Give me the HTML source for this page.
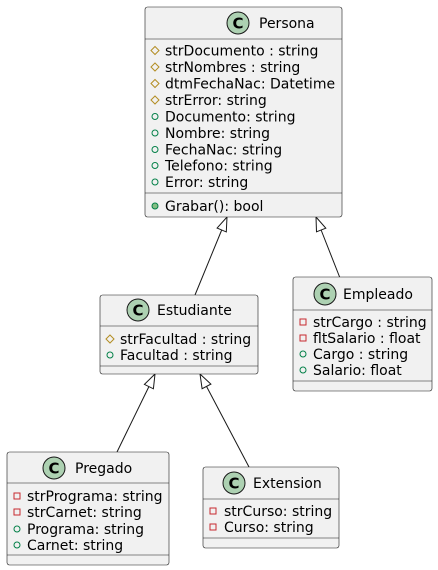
<!DOCTYPE html>
<html><head><meta charset="utf-8"><style>
html,body{margin:0;padding:0;background:#fff;}
svg{display:block;font-family:"DejaVu Sans","Liberation Sans",sans-serif;}
.b{fill:#F1F1F1;stroke:#181818;stroke-width:0.6;}
.l{stroke:#181818;stroke-width:0.6;}
.t{font-size:14px;fill:#000;}
.f{font-size:14px;fill:#000;}
.ci{fill:#ADD1B2;stroke:#181818;stroke-width:1;}
.cl{font-size:15px;font-weight:bold;fill:#000;}
.pr{fill:none;stroke:#B38D22;stroke-width:1;}
.pu{fill:none;stroke:#038048;stroke-width:1;}
.pv{fill:none;stroke:#C82930;stroke-width:1;}
.pm{fill:#84BE84;stroke:#038048;stroke-width:1;}
.a{fill:none;stroke:#181818;stroke-width:1;}
</style></head><body>
<svg width="438" height="570" viewBox="0 0 438 570">
<line class="a" x1="195" y1="295" x2="221.7" y2="230"/>
<polygon class="a" points="227,217 226.3,231.9 217.1,228.1"/>
<line class="a" x1="340" y1="278" x2="321.1" y2="230"/>
<polygon class="a" points="316,217 325.8,228.2 316.5,231.8"/>
<line class="a" x1="117" y1="452" x2="148.9" y2="386.6"/>
<polygon class="a" points="155,374 153.4,388.8 144.4,384.4"/>
<line class="a" x1="249" y1="467" x2="206.5" y2="386.4"/>
<polygon class="a" points="200,374 210.9,384.1 202.1,388.7"/>

<rect class="b" x="145" y="7" width="197" height="210" rx="2.5"/>
<line class="l" x1="145" y1="39" x2="342" y2="39"/>
<line class="l" x1="145" y1="193" x2="342" y2="193"/>
<circle class="ci" cx="238" cy="23" r="11"/><text class="cl" x="238" y="28.5" text-anchor="middle">C</text>
<text class="t" x="259" y="28">Persona</text>
<polygon class="pr" points="155,46.5 159,50.5 155,54.5 151,50.5"/><text class="f" x="165" y="55.5">strDocumento : string</text>
<polygon class="pr" points="155,63 159,67 155,71 151,67"/><text class="f" x="165" y="72">strNombres : string</text>
<polygon class="pr" points="155,79.5 159,83.5 155,87.5 151,83.5"/><text class="f" x="165" y="88.5">dtmFechaNac: Datetime</text>
<polygon class="pr" points="155,96 159,100 155,104 151,100"/><text class="f" x="165" y="105">strError: string</text>
<circle class="pu" cx="155" cy="116.5" r="3"/><text class="f" x="165" y="121.5">Documento: string</text>
<circle class="pu" cx="155" cy="133" r="3"/><text class="f" x="165" y="138">Nombre: string</text>
<circle class="pu" cx="155" cy="149.5" r="3"/><text class="f" x="165" y="154.5">FechaNac: string</text>
<circle class="pu" cx="155" cy="165.5" r="3"/><text class="f" x="165" y="170.5">Telefono: string</text>
<circle class="pu" cx="155" cy="182" r="3"/><text class="f" x="165" y="187">Error: string</text>
<circle class="pm" cx="155" cy="206" r="3"/><text class="f" x="165" y="211">Grabar(): bool</text>

<rect class="b" x="100" y="295" width="158" height="79" rx="2.5"/>
<line class="l" x1="100" y1="326" x2="258" y2="326"/>
<line class="l" x1="100" y1="366" x2="258" y2="366"/>
<circle class="ci" cx="138" cy="310" r="11"/><text class="cl" x="138" y="315.5" text-anchor="middle">C</text>
<text class="t" x="157" y="315">Estudiante</text>
<polygon class="pr" points="110,335 114,339 110,343 106,339"/><text class="f" x="120" y="344">strFacultad : string</text>
<circle class="pu" cx="110" cy="355" r="3"/><text class="f" x="120" y="360">Facultad : string</text>

<rect class="b" x="293" y="277" width="139" height="114" rx="2.5"/>
<line class="l" x1="293" y1="310" x2="432" y2="310"/>
<line class="l" x1="293" y1="381" x2="432" y2="381"/>
<circle class="ci" cx="325" cy="294" r="11"/><text class="cl" x="325" y="299.5" text-anchor="middle">C</text>
<text class="t" x="343" y="299">Empleado</text>
<rect class="pv" x="300" y="319" width="6" height="6"/><text class="f" x="313" y="327">strCargo : string</text>
<rect class="pv" x="300" y="335" width="6" height="6"/><text class="f" x="313" y="343">fltSalario : float</text>
<circle class="pu" cx="303" cy="354" r="3"/><text class="f" x="313" y="359">Cargo : string</text>
<circle class="pu" cx="303" cy="370" r="3"/><text class="f" x="313" y="375">Salario: float</text>

<rect class="b" x="7" y="452" width="162" height="113" rx="2.5"/>
<line class="l" x1="7" y1="483" x2="169" y2="483"/>
<line class="l" x1="7" y1="555" x2="169" y2="555"/>
<circle class="ci" cx="54" cy="468" r="11"/><text class="cl" x="54" y="473.5" text-anchor="middle">C</text>
<text class="t" x="75" y="473">Pregado</text>
<rect class="pv" x="14" y="493" width="6" height="6"/><text class="f" x="27" y="501">strPrograma: string</text>
<rect class="pv" x="14" y="509" width="6" height="6"/><text class="f" x="27" y="517">strCarnet: string</text>
<circle class="pu" cx="17" cy="529" r="3"/><text class="f" x="27" y="534">Programa: string</text>
<circle class="pu" cx="17" cy="545" r="3"/><text class="f" x="27" y="550">Carnet: string</text>

<rect class="b" x="203" y="467" width="136" height="81" rx="2.5"/>
<line class="l" x1="203" y1="499" x2="339" y2="499"/>
<line class="l" x1="203" y1="538" x2="339" y2="538"/>
<circle class="ci" cx="234" cy="483" r="11"/><text class="cl" x="234" y="488.5" text-anchor="middle">C</text>
<text class="t" x="253" y="488">Extension</text>
<rect class="pv" x="210" y="508" width="6" height="6"/><text class="f" x="224" y="516">strCurso: string</text>
<rect class="pv" x="210" y="524" width="6" height="6"/><text class="f" x="224" y="532">Curso: string</text>
</svg>
</body></html>
